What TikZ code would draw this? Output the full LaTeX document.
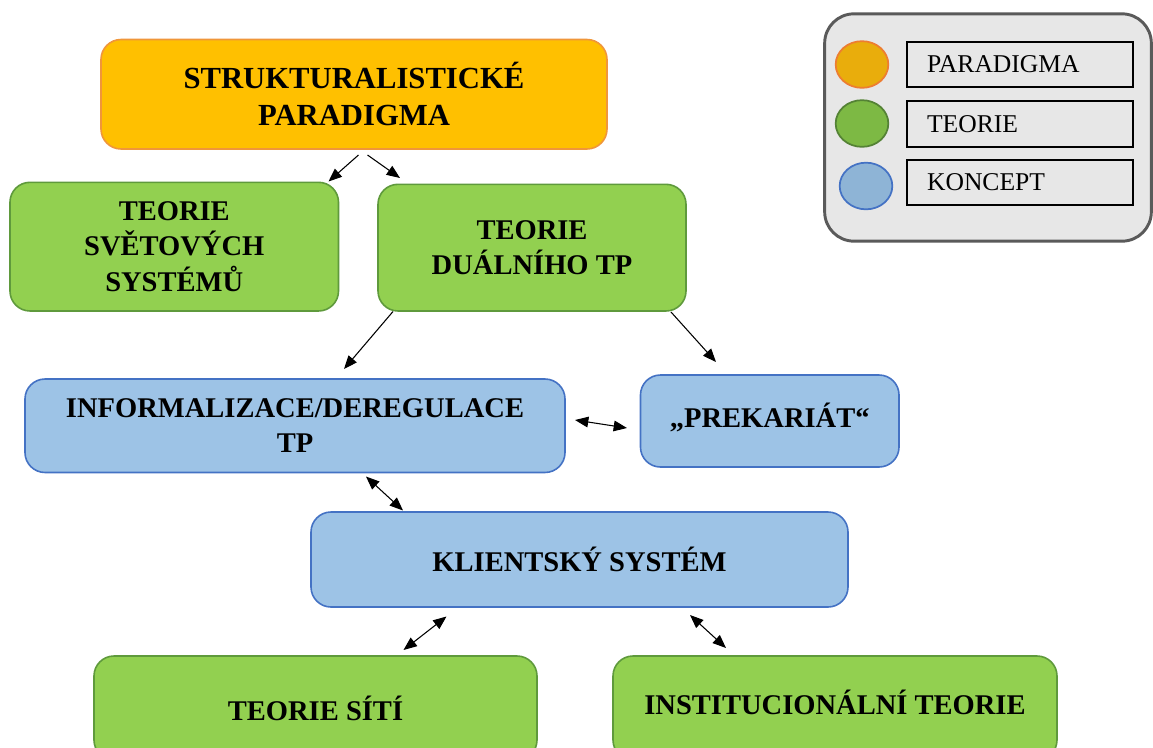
\documentclass[tikz,border=0pt]{standalone}
\usepackage{fontspec}
\setmainfont{Liberation Serif}
\usetikzlibrary{arrows.meta,shapes.geometric}
\definecolor{orfill}{HTML}{FFC000}
\definecolor{ordraw}{HTML}{F0963A}
\definecolor{grfill}{HTML}{92D050}
\definecolor{grdraw}{HTML}{5F9A3C}
\definecolor{blfill}{HTML}{9DC3E6}
\definecolor{bldraw}{HTML}{4472C4}
\definecolor{lgfill}{HTML}{E7E7E7}
\definecolor{lgdraw}{HTML}{5A5A5A}
\definecolor{lorfill}{HTML}{E9AD0C}
\definecolor{lordraw}{HTML}{ED7D31}
\definecolor{lgrfill}{HTML}{7DB944}
\definecolor{lgrdraw}{HTML}{548235}
\definecolor{lblfill}{HTML}{8EB4D6}
\definecolor{lbldraw}{HTML}{4472C4}
\begin{document}
\begin{tikzpicture}[x=0.75pt,y=-0.75pt,
  box/.style={rounded corners=15pt, line width=1.2pt, align=center,
    font=\bfseries\fontsize{21.4}{26.5}\selectfont, inner sep=0pt},
  parbox/.style={box, fill=orfill, draw=ordraw, font=\bfseries\fontsize{23}{27.5}\selectfont},
  teobox/.style={box, fill=grfill, draw=grdraw},
  konbox/.style={box, fill=blfill, draw=bldraw},
  legitem/.style={draw=black, line width=1.5pt, minimum width=169.5pt, minimum height=34.3pt,
    inner xsep=14.8pt, inner ysep=0pt, text width=139.9pt, align=left,
    font=\fontsize{19.2}{22}\selectfont},
  legdot/.style={ellipse, line width=1.3pt, minimum width=39.5pt, minimum height=35pt, inner sep=0pt},
  onearrow/.style={-{Triangle[length=10pt,width=8pt]}, line width=0.8pt},
  twoarrow/.style={{Triangle[length=10pt,width=8pt]}-{Triangle[length=10pt,width=8pt]}, line width=0.8pt}]
\useasboundingbox (0,0) rectangle (1153,747);
\clip (0,0) rectangle (1153,747);
\fill[white] (0,0) rectangle (1153,747);

% legend
\node[draw=lgdraw, fill=lgfill, line width=2.2pt, rounded corners=22pt,
  minimum width=245pt, minimum height=170.5pt, inner sep=0pt] (legend) at (988,127.5) {};
\node[legdot, fill=lorfill, draw=lordraw] (dotP) at (862,64.5) {};
\node[legdot, fill=lgrfill, draw=lgrdraw] (dotT) at (862,123.5) {};
\node[legdot, fill=lblfill, draw=lbldraw] (dotK) at (866,186) {};
\node[legitem] (legP) at (1020.3,64.5) {\raisebox{-1.5pt}{PARADIGMA}};
\node[legitem] (legT) at (1020.3,123.9) {\raisebox{-1.5pt}{TEORIE}};
\node[legitem] (legK) at (1020.3,182.4) {\raisebox{-1.5pt}{KONCEPT}};

% boxes
\node[parbox, minimum width=379.5pt, minimum height=82.1pt] (par) at (354,94.25)
  {STRUKTURALISTICKÉ\\PARADIGMA};
\node[teobox, minimum width=246.4pt, minimum height=96.5pt] (svet) at (174.25,246.65)
  {TEORIE\\SVĚTOVÝCH\\SYSTÉMŮ};
\node[teobox, minimum width=231pt, minimum height=95pt] (dual) at (532,247.65)
  {TEORIE\\DUÁLNÍHO TP};
\node[konbox, minimum width=405pt, minimum height=70.1pt] (inf) at (295,425.75)
  {INFORMALIZACE/DEREGULACE\\TP};
\node[konbox, minimum width=193.9pt, minimum height=69pt] (prek) at (769.75,421)
  {\raisebox{8pt}{„PREKARIÁT“}};
\node[konbox, minimum width=402.75pt, minimum height=71.25pt] (kli) at (579.5,559.5)
  {KLIENTSKÝ SYSTÉM};
\node[teobox, minimum width=332.25pt, minimum height=78pt] (site) at (315.5,708)
  {TEORIE SÍTÍ};
\node[teobox, minimum width=333pt, minimum height=78pt] (inst) at (835,708)
  {\raisebox{8pt}{INSTITUCIONÁLNÍ TEORIE}};

% arrow ends
\coordinate (a1s) at (358.5,155);
\coordinate (a1e) at (328.5,181.5);
\coordinate (a2s) at (367.5,155);
\coordinate (a2e) at (400,178);
\coordinate (a3s) at (393,311.5);
\coordinate (a3e) at (344,369);
\coordinate (a4s) at (671,312);
\coordinate (a4e) at (716,362);
\coordinate (b1s) at (575,420);
\coordinate (b1e) at (627,428);
\coordinate (b2s) at (366,476.5);
\coordinate (b2e) at (403,510.5);
\coordinate (b3s) at (403.5,650);
\coordinate (b3e) at (446.5,616.5);
\coordinate (b4s) at (690,615);
\coordinate (b4e) at (726,648);

\draw[onearrow] (a1s) -- (a1e);
\draw[onearrow] (a2s) -- (a2e);
\draw[onearrow] (a3s) -- (a3e);
\draw[onearrow] (a4s) -- (a4e);
\draw[twoarrow] (b1s) -- (b1e);
\draw[twoarrow] (b2s) -- (b2e);
\draw[twoarrow] (b3s) -- (b3e);
\draw[twoarrow] (b4s) -- (b4e);
\end{tikzpicture}
\end{document}
